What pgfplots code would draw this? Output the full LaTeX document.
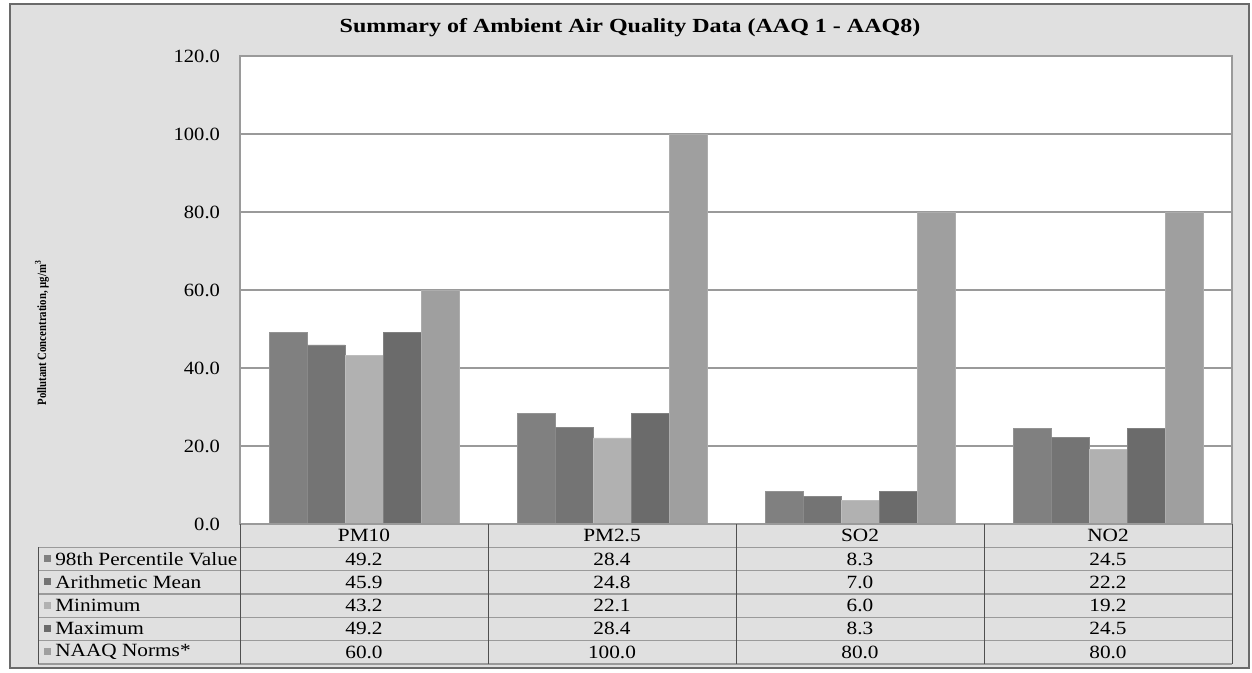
\documentclass[border=0pt]{standalone}
\usepackage{pgfplots}
\pgfplotsset{compat=1.18}
\usepackage{pgfplotstable}
\usepackage{fontspec}
\setmainfont{Liberation Serif}
\definecolor{bg}{HTML}{E0E0E0}
\definecolor{frame}{HTML}{6A6A6A}
\definecolor{cA}{HTML}{808080}
\definecolor{cB}{HTML}{747474}
\definecolor{cC}{HTML}{B1B1B1}
\definecolor{cD}{HTML}{6B6B6B}
\definecolor{cE}{HTML}{9F9F9F}
\definecolor{hline}{HTML}{9A9A9A}
\definecolor{vline}{HTML}{505050}
\pgfplotstableread{
x p98 mean min max naaq
0 49.2 45.9 43.2 49.2 60.0
1 28.4 24.8 22.1 28.4 100.0
2 8.3 7.0 6.0 8.3 80.0
3 24.5 22.2 19.2 24.5 80.0
}\datatable
\begin{document}
\begin{tikzpicture}[x=0.75pt,y=0.75pt]
\fill[white] (0,0) rectangle (1252,672);
\filldraw[fill=bg, draw=frame, line width=1.2pt] (10,4) rectangle (1249,668);
\begin{axis}[
  at={(180pt,111pt)}, anchor=south west,
  width=744pt, height=351pt, scale only axis,
  xmin=-0.5, xmax=3.5, ymin=0, ymax=120,
  ytick={0,20,...,120}, xtick=\empty,
  ybar=0pt, bar width=28.5pt,
  axis background/.style={fill=white},
  ymajorgrids, grid style={hline, line width=0.8pt},
  axis line style={hline, line width=0.8pt},
  ytick style={draw=none},
  yticklabel style={/pgf/number format/fixed, /pgf/number format/fixed zerofill, /pgf/number format/precision=1, /pgf/number format/assume math mode=true, font=\fontsize{14}{16}\selectfont, xscale=1.1, inner sep=0pt, xshift=-13.5pt},
  clip=false,
]
\addplot[fill=cA, draw=cA!85!white] table[x=x,y=p98] {\datatable};
\addplot[fill=cB, draw=cB!85!white] table[x=x,y=mean] {\datatable};
\addplot[fill=cC, draw=cC!85!white] table[x=x,y=min] {\datatable};
\addplot[fill=cD, draw=cD!85!white] table[x=x,y=max] {\datatable};
\addplot[fill=cE, draw=cE!85!white] table[x=x,y=naaq] {\datatable};
\end{axis}
% title
\node[font=\fontsize{15}{17}\selectfont\bfseries, xscale=1.2] at (630,644) {Summary of Ambient Air Quality Data (AAQ 1 - AAQ8)};
% y label
\node[font=\fontsize{9.5}{11}\selectfont\bfseries, rotate=90, xscale=0.85] at (42,339) {Pollutant Concentration, µg/m\textsuperscript{3}};
% data table
\foreach \yy in {124.7,101.3,78,54.7,31.3,8} {\draw[hline, line width=1.1pt] (38,\yy) -- (1232,\yy);}
\draw[hline, line width=1.1pt] (240,148) -- (1232,148);
\draw[vline, line width=0.6pt] (38,124.7) -- (38,8);
\foreach \xx in {240,488,736,984,1232} {\draw[vline, line width=0.6pt] (\xx,148) -- (\xx,8);}
\begin{scope}[every node/.style={font=\fontsize{14}{16}\selectfont, inner sep=0pt, xscale=1.14}]
\node at (364,136.4) {PM10};
\node at (612,136.4) {PM2.5};
\node at (860,136.4) {SO2};
\node at (1108,136.4) {NO2};
% row labels with swatches
\fill[cA] (44,110) rectangle (51,117);
\node[anchor=west] at (55,113) {98th Percentile Value};
\fill[cB] (44,86.7) rectangle (51,93.7);
\node[anchor=west] at (55,90) {Arithmetic Mean};
\fill[cC] (44,63.4) rectangle (51,70.4);
\node[anchor=west] at (55,66.7) {Minimum};
\fill[cD] (44,40) rectangle (51,47);
\node[anchor=west] at (55,43.4) {Maximum};
\fill[cE] (44,16.7) rectangle (51,23.7);
\node[anchor=west] at (55,20) {NAAQ Norms*};
% values
\node at (364,113) {49.2}; \node at (612,113) {28.4}; \node at (860,113) {8.3}; \node at (1108,113) {24.5};
\node at (364,90) {45.9}; \node at (612,90) {24.8}; \node at (860,90) {7.0}; \node at (1108,90) {22.2};
\node at (364,66.7) {43.2}; \node at (612,66.7) {22.1}; \node at (860,66.7) {6.0}; \node at (1108,66.7) {19.2};
\node at (364,43.4) {49.2}; \node at (612,43.4) {28.4}; \node at (860,43.4) {8.3}; \node at (1108,43.4) {24.5};
\node at (364,20) {60.0}; \node at (612,20) {100.0}; \node at (860,20) {80.0}; \node at (1108,20) {80.0};
\end{scope}
\end{tikzpicture}
\end{document}
